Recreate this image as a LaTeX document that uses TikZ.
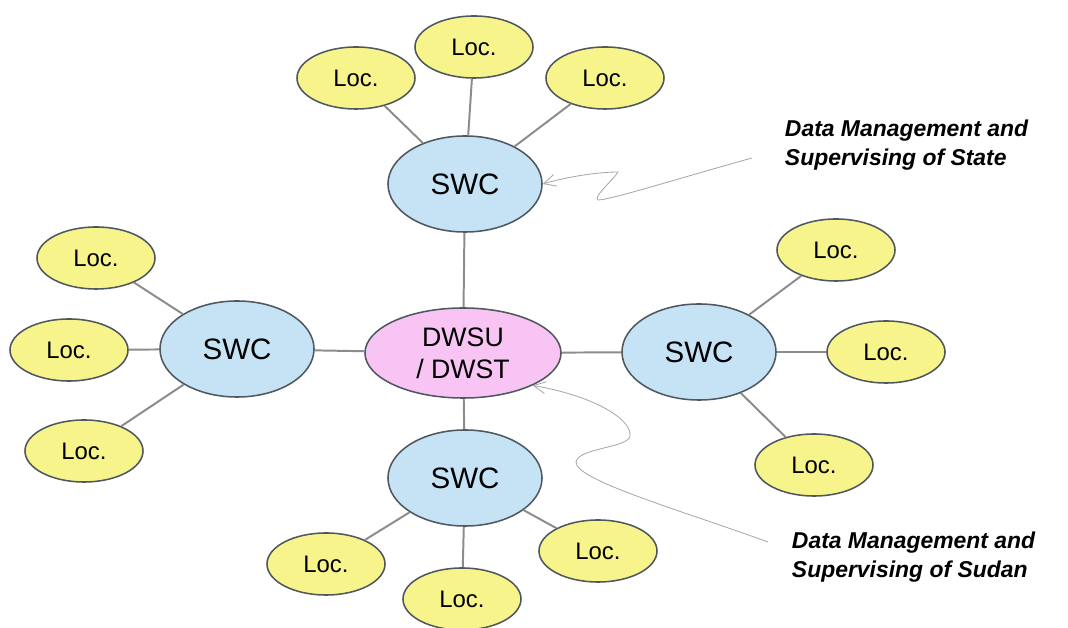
\documentclass[tikz,border=0pt]{standalone}
\usepackage{fontspec}
\setmainfont{Liberation Sans}
\usetikzlibrary{positioning,arrows.meta,shapes.geometric}
\definecolor{locfill}{HTML}{F7F48B}
\definecolor{swcfill}{HTML}{C6E3F5}
\definecolor{hubfill}{HTML}{F7C4F4}
\definecolor{rim}{HTML}{4E585E}
\definecolor{linkgray}{HTML}{8C8C8C}
\definecolor{notegray}{HTML}{A8A8A8}
\tikzset{
  locnode/.style={ellipse, draw=rim, line width=1.1pt, fill=locfill, minimum width=2.95cm, minimum height=1.55cm, inner sep=0pt, font=\fontsize{17}{20}\selectfont},
  swcnode/.style={ellipse, draw=rim, line width=1.1pt, fill=swcfill, minimum width=3.85cm, minimum height=2.4cm, inner sep=0pt, font=\fontsize{21}{24}\selectfont},
  hubnode/.style={ellipse, draw=rim, line width=1.1pt, fill=hubfill, minimum width=4.9cm, minimum height=2.25cm, inner sep=0pt, align=center, font=\fontsize{19}{23}\selectfont},
  link/.style={draw=linkgray, line width=1.4pt},
  notearrow/.style={-{Straight Barb[length=3mm,width=3mm]}, draw=notegray, line width=0.6pt},
  notetext/.style={align=left, anchor=west, font=\fontsize{16.3}{21}\selectfont\bfseries\itshape, text=black}
}
\begin{document}
\begin{tikzpicture}[x=0.025cm, y=-0.025cm]
  \useasboundingbox (0,0) rectangle (1068,628);
  \node[hubnode] (hub) at (463,353) {DWSU\\/ DWST};
  \node[swcnode] (swcn) at (465,184) {SWC};
  \node[swcnode] (swcw) at (237,349) {SWC};
  \node[swcnode] (swce) at (699,352) {SWC};
  \node[swcnode] (swcs) at (465,478) {SWC};
  \node[locnode] (ln1) at (356,78) {Loc.};
  \node[locnode] (ln2) at (474,47) {Loc.};
  \node[locnode] (ln3) at (605,78) {Loc.};
  \node[locnode] (lw1) at (96,258) {Loc.};
  \node[locnode] (lw2) at (69,350) {Loc.};
  \node[locnode] (lw3) at (84,451) {Loc.};
  \node[locnode] (le1) at (836,250) {Loc.};
  \node[locnode] (le2) at (886,352) {Loc.};
  \node[locnode] (le3) at (814,465) {Loc.};
  \node[locnode] (ls1) at (326,564) {Loc.};
  \node[locnode] (ls2) at (462,599) {Loc.};
  \node[locnode] (ls3) at (598,551) {Loc.};
  \draw[link] (hub) -- (swcn);
  \draw[link] (hub) -- (swcw);
  \draw[link] (hub) -- (swce);
  \draw[link] (hub) -- (swcs);
  \draw[link] (swcn) -- (ln1);
  \draw[link] (swcn) -- (ln2);
  \draw[link] (swcn) -- (ln3);
  \draw[link] (swcw) -- (lw1);
  \draw[link] (swcw) -- (lw2);
  \draw[link] (swcw) -- (lw3);
  \draw[link] (swce) -- (le1);
  \draw[link] (swce) -- (le2);
  \draw[link] (swce) -- (le3);
  \draw[link] (swcs) -- (ls1);
  \draw[link] (swcs) -- (ls2);
  \draw[link] (swcs) -- (ls3);
  \node[notetext] (statenote) at (780,145) {Data Management and\\Supervising of State};
  \node[notetext] (sudannote) at (787,557) {Data Management and\\Supervising of Sudan};
  \coordinate (statetail) at (752,158);
  \coordinate (sudantail) at (768,542);
  \draw[notearrow] (statetail) .. controls (680,178) and (610,200) .. (598,200)
    .. controls (592,198) and (615,178) .. (618,172)
    .. controls (600,172) and (570,176) .. (swcn.east);
  \draw[notearrow] (sudantail) .. controls (680,510) and (575,480) .. (576,462)
    .. controls (578,448) and (628,448) .. (630,436)
    .. controls (632,418) and (590,395) .. (hub.-25);
\end{tikzpicture}
\end{document}
